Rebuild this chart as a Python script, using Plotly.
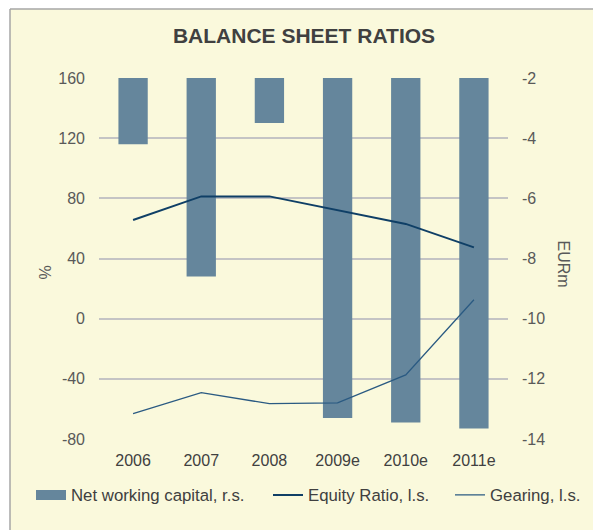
import plotly.graph_objects as go

years = ["2006", "2007", "2008", "2009e", "2010e", "2011e"]
net_working_capital = [-4.2, -8.6, -3.5, -13.3, -13.45, -13.65]
equity_ratio = [65.6, 81.3, 81.3, 72.3, 63.0, 47.4]
gearing = [-63.2, -49.2, -56.5, -56.0, -37.4, 12.6]

left_ticks = [160, 120, 80, 40, 0, -40, -80]
right_ticks = [-2, -4, -6, -8, -10, -12, -14]

BG = "#FAF9DC"
FONT = "Liberation Sans, Arial, sans-serif"
BAR_COLOR = "#65869C"

W, H = 593, 530
L, R, T, B = 99, 85, 78, 91
PW, PH = W - L - R, H - T - B


def px(x):
    return (x - L) / PW


def py(y):
    return (H - B - y) / PH


fig = go.Figure()
fig.add_trace(go.Bar(
    x=years, y=net_working_capital, name="Net working capital, r.s.",
    marker=dict(color=BAR_COLOR, line=dict(width=0)), yaxis="y",
    showlegend=False, legendgroup="nwc",
))
# legend proxy so the bar's legend key is a wide block as in the original
fig.add_trace(go.Scatter(
    x=[None], y=[None], name="Net working capital, r.s.", mode="lines",
    line=dict(color=BAR_COLOR, width=11), yaxis="y", legendgroup="nwc",
    legend="legend",
))
fig.add_trace(go.Scatter(
    x=years, y=equity_ratio, name="Equity Ratio, l.s.", mode="lines",
    line=dict(color="#0F3F66", width=2), yaxis="y2", legend="legend2",
))
fig.add_trace(go.Scatter(
    x=years, y=gearing, name="Gearing, l.s.", mode="lines",
    line=dict(color="#2A5A82", width=1.3), yaxis="y2", legend="legend3",
))

legend_common = dict(orientation="h", xref="paper", yref="paper", xanchor="left",
                     yanchor="middle", y=py(495),
                     font=dict(family=FONT, size=16.8, color="#404040"),
                     bgcolor="rgba(0,0,0,0)", itemwidth=30)

fig.update_layout(
    width=W, height=H,
    margin=dict(l=L, r=R, t=T, b=B, autoexpand=False),
    paper_bgcolor=BG, plot_bgcolor=BG,
    font=dict(family=FONT, color="#595959", size=16),
    title=dict(text="<b>BALANCE SHEET RATIOS</b>", x=304 / W, xanchor="center",
               xref="container", yref="container",
               y=1 - 36 / H, yanchor="middle",
               font=dict(family=FONT, size=21, color="#404040")),
    bargap=0.57,
    showlegend=True,
    legend=dict(legend_common, x=px(31)),
    legend2=dict(legend_common, x=px(268)),
    legend3=dict(legend_common, x=px(450)),
    xaxis=dict(showgrid=False, showline=False, zeroline=False, ticks="",
               ticklabelstandoff=10,
               tickfont=dict(size=16, color="#404040")),
    yaxis=dict(side="right", range=[-14, -2], tickvals=right_ticks,
               ticktext=[str(v) for v in right_ticks],
               showgrid=False, zeroline=False, showline=False, ticks="",
               ticklabelstandoff=13,
               tickfont=dict(size=16, color="#595959")),
    yaxis2=dict(overlaying="y", side="left", range=[-80, 160], tickvals=left_ticks,
                ticktext=[str(v) for v in left_ticks],
                showgrid=True, gridcolor="#C4C4C4", gridwidth=1.5,
                zeroline=False, showline=False, ticks="",
                ticklabelstandoff=13,
                tickfont=dict(size=16, color="#595959")),
    shapes=[
        dict(type="rect", xref="paper", yref="paper",
             x0=-0.5, x1=px(10), y0=-0.5, y1=1.5,
             fillcolor="white", line=dict(width=0), layer="below"),
        dict(type="rect", xref="paper", yref="paper",
             x0=-0.5, x1=1.5, y0=py(9), y1=1.5,
             fillcolor="white", line=dict(width=0), layer="below"),
        dict(type="line", xref="paper", yref="paper",
             x0=px(10), x1=px(10), y0=-0.5, y1=py(9),
             line=dict(color="#A6A6A6", width=1.5)),
        dict(type="line", xref="paper", yref="paper",
             x0=px(10), x1=1.5, y0=py(9), y1=py(9),
             line=dict(color="#A6A6A6", width=1.5)),
    ],
    annotations=[
        dict(text="%", xref="paper", yref="paper", x=px(34), y=py(273),
             showarrow=False, textangle=-90, font=dict(size=16, color="#595959")),
        dict(text="EURm", xref="paper", yref="paper", x=px(574), y=py(264),
             showarrow=False, textangle=90, font=dict(size=16, color="#595959")),
    ],
)

fig.write_html("out.html", config={"displayModeBar": False},
               post_script="document.body.style.margin='0px';")
